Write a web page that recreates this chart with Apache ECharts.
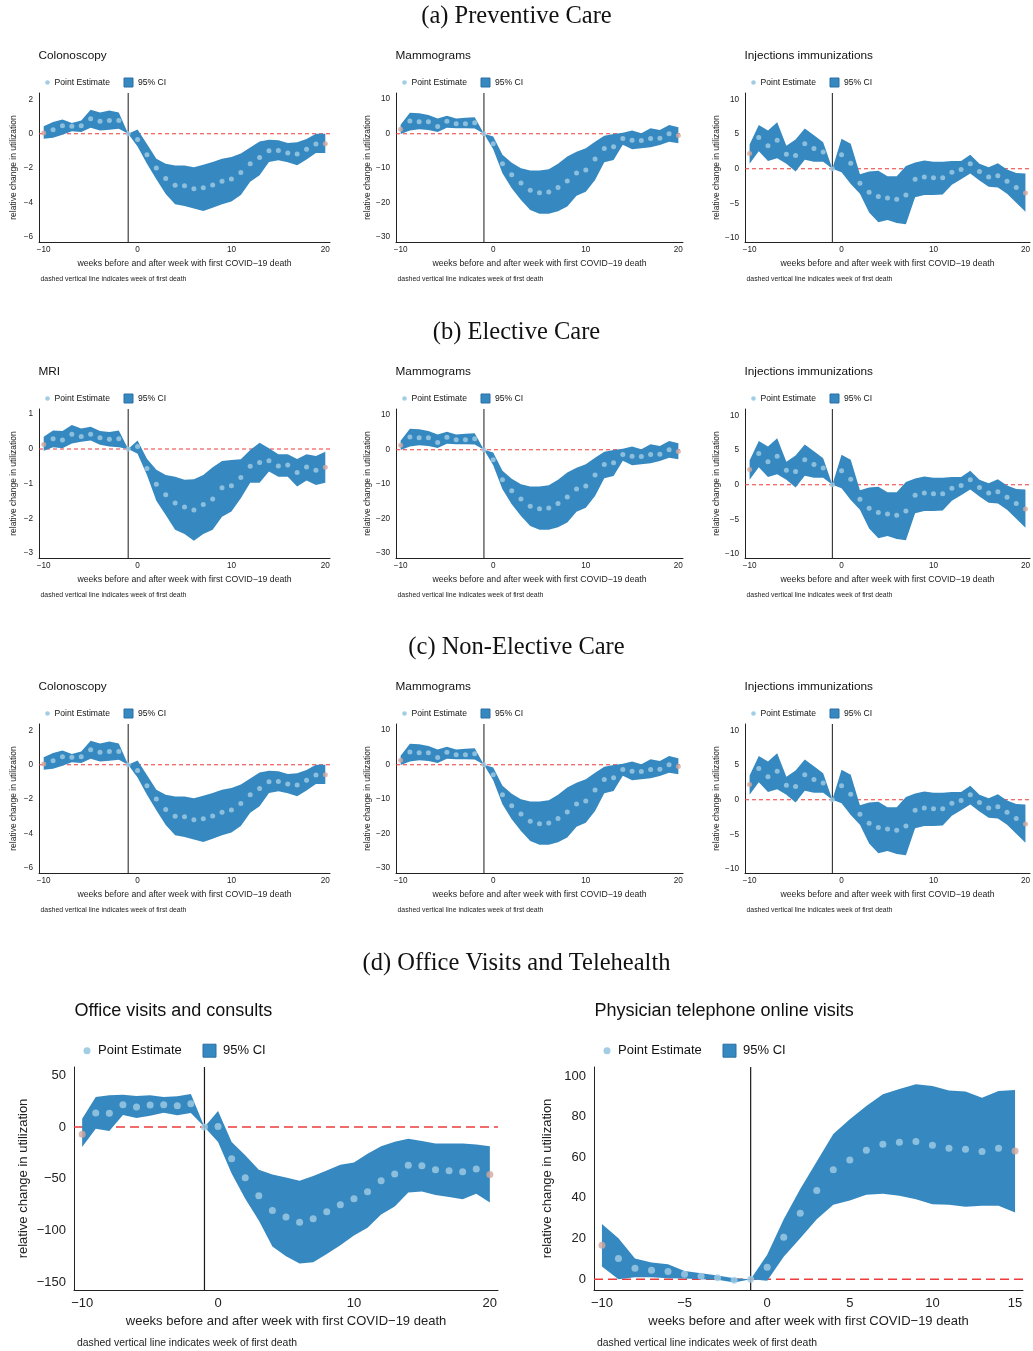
<!DOCTYPE html>
<html><head><meta charset="utf-8">
<script src="https://cdn.jsdelivr.net/npm/echarts@6/dist/echarts.min.js"></script>
<style>html,body{margin:0;padding:0;background:#fff}#c{width:1033px;height:1351px}</style>
</head><body><div id="c"></div>
<script>
// ---------------- DATA ----------------
const weeksLong = [-10,-9,-8,-7,-6,-5,-4,-3,-2,-1,0,1,2,3,4,5,6,7,8,9,10,11,12,13,14,15,16,17,18,19,20];
const weeksTele = [-10,-9,-8,-7,-6,-5,-4,-3,-2,-1,0,1,2,3,4,5,6,7,8,9,10,11,12,13,14,15];

const colonEst = [0.04,0.23,0.46,0.43,0.46,0.87,0.73,0.77,0.77,0,-0.33,-1.22,-2.0,-2.6,-3.0,-3.03,-3.2,-3.15,-2.98,-2.76,-2.63,-2.26,-1.74,-1.39,-0.99,-0.97,-1.12,-1.18,-0.91,-0.6,-0.58];
const colonHi  = [0.43,0.68,0.83,0.62,0.77,1.39,1.24,1.35,1.24,0,0.25,-0.6,-1.45,-1.75,-1.85,-1.85,-1.95,-1.8,-1.65,-1.45,-1.35,-1.15,-0.8,-0.45,-0.35,-0.38,-0.54,-0.5,-0.3,0,0];
const colonLo  = [-0.29,-0.23,-0.06,0.15,0.1,0.35,0.19,0.23,0.29,0,-0.75,-1.75,-2.65,-3.5,-4.1,-4.2,-4.35,-4.5,-4.3,-4.1,-3.95,-3.57,-2.8,-2.42,-1.65,-1.55,-1.66,-1.84,-1.5,-1.12,-1.12];

const mammoEst = [1.3,3.7,3.5,3.5,2.1,3.6,2.9,2.9,3.2,0,-2.9,-8.7,-11.9,-14.3,-16.4,-17.1,-16.9,-15.6,-13.7,-11.4,-10.5,-7.3,-4.3,-3.8,-1.4,-1.9,-2.0,-1.4,-1.3,0,-0.5];
const mammoHi  = [2.6,6.1,5.9,5.4,4.4,5.2,4.4,4.6,4.8,0,-0.8,-6.1,-8.4,-10.0,-10.7,-10.7,-10.3,-8.7,-6.6,-5.2,-4.2,-2.3,-0.6,-0.1,0.3,0.9,0.1,1.6,1.1,2.5,1.9];
const mammoLo  = [-0.1,0.9,1.3,1.1,0.5,1.7,1.6,1.6,1.5,0,-4.5,-11.5,-15.8,-19.2,-22.1,-23.2,-23.2,-22.5,-21.1,-18.0,-16.8,-13.4,-8.3,-7.6,-3.2,-4.5,-4.2,-3.9,-3.3,-2.3,-2.8];

const injEst = [2.2,4.5,3.3,4.1,2.1,1.9,3.6,2.9,2.4,0,2.0,0.8,-2.1,-3.4,-4.0,-4.2,-4.4,-3.8,-1.5,-1.2,-1.3,-1.3,-0.5,-0.1,0.7,-0.4,-1.2,-1.0,-1.8,-2.7,-3.5];
const injHi  = [3.5,6.3,5.5,6.7,3.3,4.2,5.8,4.8,3.8,0,4.3,3.6,-0.8,-0.4,-0.3,-1.1,-1.1,0.4,0.9,1.2,1.0,1.0,1.1,1.1,2.0,0.7,0.2,0.8,-0.1,-0.6,-0.7];
const injLo  = [0.7,2.5,1.1,1.5,0.7,-0.4,1.3,1.0,1.0,0,-0.5,-2.2,-3.6,-6.3,-7.7,-7.4,-7.8,-8.0,-4.1,-3.8,-3.8,-3.7,-2.3,-1.5,-0.7,-1.7,-2.6,-2.7,-3.6,-4.9,-6.2];

const mriEst = [0.13,0.29,0.26,0.42,0.36,0.42,0.32,0.28,0.29,0,0.07,-0.56,-1.02,-1.32,-1.56,-1.67,-1.76,-1.6,-1.44,-1.12,-1.06,-0.82,-0.5,-0.39,-0.34,-0.49,-0.46,-0.68,-0.52,-0.61,-0.53];
const mriHi  = [0.35,0.53,0.52,0.69,0.59,0.64,0.52,0.49,0.53,0,0.24,-0.28,-0.6,-0.75,-0.8,-0.89,-0.87,-0.75,-0.53,-0.35,-0.32,-0.3,-0.03,0.18,0.02,-0.15,-0.15,-0.29,-0.15,-0.2,-0.08];
const mriLo  = [-0.05,0.05,0.02,0.16,0.21,0.24,0.12,0.07,0.05,0,-0.14,-0.75,-1.49,-1.9,-2.33,-2.45,-2.64,-2.45,-2.33,-1.95,-1.8,-1.42,-0.97,-0.97,-0.65,-0.8,-0.8,-1.08,-0.91,-1.04,-0.97];

const officeEst = [-7,13.5,13.2,21.6,19.4,21.3,21.6,20.6,22.6,0,0.6,-30.6,-49,-66.5,-80.6,-87,-92,-88.7,-82,-75,-69.4,-62.6,-52,-45.5,-37,-37.4,-41.3,-42.3,-43.2,-40.6,-46];
const officeHi  = [8,29,30.6,31.3,30,30.6,29,29.7,32,0,15.5,-14.5,-27.4,-41.3,-45.8,-48.7,-52,-47.4,-42,-36.5,-34.2,-25.8,-18.7,-14.2,-11.3,-13.5,-16,-16,-16,-16.8,-18.7];
const officeLo  = [-19.4,-1.6,-3.9,11.6,8.7,11,13.9,11.3,13.5,0,-14.5,-45,-69.4,-90.3,-115.5,-125,-132,-130.6,-122.6,-114.2,-104.8,-97.4,-84.5,-76.8,-63.2,-62.3,-65.8,-67.7,-69.7,-64.5,-72.9];

const teleEst = [16.7,10.2,5.4,4.4,3.8,2.5,1.5,0.7,-0.5,0,5.9,20.7,32.5,43.6,53.8,58.7,63.4,66.4,67.4,67.7,65.9,64.4,63.9,62.8,64.4,63.1];
const teleHi  = [27.2,20.2,10.2,8.2,7.4,4.1,3.0,1.8,0.5,0,12,29.5,44.4,57.9,71.5,78.7,85.2,91,93.6,95.9,95.1,92.8,92.3,89.3,92.6,93.1];
const teleLo  = [6.2,0,1.0,1.0,0.5,0.3,0,-0.3,-1.6,0,-0.7,11.1,20.2,29.5,36.6,38.7,41.5,42,41.1,39.3,36.9,36.6,35.7,36.2,36.2,32.8];

const ticksLongX = [-10,0,10,20];
const ticksTeleX = [-10,-5,0,5,10,15];
const ticksColonY = [-6,-4,-2,0,2];
const ticksMammoY = [-30,-20,-10,0,10];
const ticksInjY = [-10,-5,0,5,10];
const ticksMriY = [-3,-2,-1,0,1];
const ticksOfficeY = [-150,-100,-50,0,50];
const ticksTeleY = [0,20,40,60,80,100];

const sectionTitles = ['(a) Preventive Care','(b) Elective Care','(c) Non-Elective Care','(d) Office Visits and Telehealth'];
const xTitle = 'weeks before and after week with first COVID\u221219 death';
const yTitle = 'relative change in utilization';
const noteText = 'dashed vertical line indicates week of first death';
const legendPoint = 'Point Estimate';
const legendCI = '95% CI';
const eventWeek = -1;
const baseline = 0;

// ---------------- STYLE / LAYOUT ----------------
const BAND = '#3689c0', BAND_EDGE = '#2a6ea3', PT = '#a3cde4', PT_END = '#d3a79d', RED = '#ee3b3b';
const FONT = "'Liberation Sans', Arial, Helvetica, sans-serif";
const SERIF = "'Liberation Serif', 'Times New Roman', serif";

const colon = {name:'Colonoscopy', weeks:weeksLong, est:colonEst, lo:colonLo, hi:colonHi, ymin:-6.3, ymax:2.37, yticks:ticksColonY, xticks:ticksLongX};
const mammo = {name:'Mammograms', weeks:weeksLong, est:mammoEst, lo:mammoLo, hi:mammoHi, ymin:-31.4, ymax:11.8, yticks:ticksMammoY, xticks:ticksLongX};
const inj = {name:'Injections immunizations', weeks:weeksLong, est:injEst, lo:injLo, hi:injHi, ymin:-10.55, ymax:10.9, yticks:ticksInjY, xticks:ticksLongX};
const mri = {name:'MRI', weeks:weeksLong, est:mriEst, lo:mriLo, hi:mriHi, ymin:-3.14, ymax:1.15, yticks:ticksMriY, xticks:ticksLongX};
const office = {name:'Office visits and consults', weeks:weeksLong, est:officeEst, lo:officeLo, hi:officeHi, ymin:-157.5, ymax:58, yticks:ticksOfficeY, xticks:ticksLongX};
const tele = {name:'Physician telephone online visits', weeks:weeksTele, est:teleEst, lo:teleLo, hi:teleHi, ymin:-5.3, ymax:104.4, yticks:ticksTeleY, xticks:ticksTeleX};

const SMALL = {title:11.8, legend:8.6, tick:8.2, xname:8.7, yname:8.5, note:6.9, pt:5, xmargin:4, ymargin:6, xgap:17.5, ygap:20.5,
  titleDy:-37, legDy:-10.5, noteDy:37, dot:[8.5,2.3], t1:15.5, rect:[85,9], t2:99, noteDx:1.5, titleDx:-0.5, dash:[4,3], vline:1, hline:1.1};
const BIG = {title:18, legend:13, tick:13, xname:13, yname:13, note:10.4, pt:7, xmargin:7, ymargin:8, xgap:25, ygap:44,
  titleDy:-56, legDy:-16.3, noteDy:53, dot:[13,3.5], t1:24, rect:[129,13], t2:149, noteDx:3, titleDx:0.5, dash:[9,5], vline:1.2, hline:1.3};

const fmt = v => String(v).replace('-', '\u2212');

const grid = [], xAxis = [], yAxis = [], series = [], graphic = [];

function txt(x, y, text, size, opts) {
  graphic.push({type:'text', x:x, y:y, silent:true,
    style:{text:text, fontSize:size, fontFamily:(opts&&opts.family)||FONT, fill:(opts&&opts.fill)||'#111',
      align:(opts&&opts.align)||'left', verticalAlign:'middle'}});
}

function addPanel(d, left, top, width, height, xmin, xmax, S, ygapOverride) {
  const i = grid.length;
  grid.push({left:left, top:top, width:width, height:height});
  xAxis.push({type:'value', gridIndex:i, min:xmin, max:xmax,
    axisLine:{onZero:false, lineStyle:{color:'#222', width:1}}, axisTick:{show:false}, splitLine:{show:false},
    axisLabel:{customValues:d.xticks, formatter:fmt, fontSize:S.tick, color:'#222', margin:S.xmargin, fontFamily:FONT},
    name:xTitle, nameLocation:'middle', nameGap:S.xgap, nameTextStyle:{fontSize:S.xname, color:'#222', fontFamily:FONT}});
  yAxis.push({type:'value', gridIndex:i, min:d.ymin, max:d.ymax,
    axisLine:{show:true, onZero:false, lineStyle:{color:'#222', width:1}}, axisTick:{show:false}, splitLine:{show:false},
    axisLabel:{customValues:d.yticks, formatter:fmt, fontSize:S.tick, color:'#222', margin:S.ymargin, fontFamily:FONT},
    name:yTitle, nameLocation:'middle', nameGap:(ygapOverride||S.ygap), nameTextStyle:{fontSize:S.yname, color:'#222', fontFamily:FONT}});
  // dashed zero reference line (under the band)
  series.push({type:'line', xAxisIndex:i, yAxisIndex:i, silent:true, z:1, symbol:'none', animation:false,
    data:[[xmin, baseline],[xmax, baseline]],
    lineStyle:{color:RED, type:S.dash, width:S.hline}, itemStyle:{color:RED}});
  // 95% CI band: one polygon through the library's coordinate conversion
  series.push({type:'custom', xAxisIndex:i, yAxisIndex:i, silent:true, z:2,
    data:d.weeks.map((w,k)=>[w, d.lo[k], d.hi[k]]),
    encode:{x:0, y:[1,2]},
    renderItem:(params, api) => {
      if (params.dataIndex !== 0) return null;
      const upper = d.weeks.map((w,k)=>api.coord([w, d.hi[k]]));
      const lower = d.weeks.map((w,k)=>api.coord([w, d.lo[k]])).reverse();
      return {type:'polygon', shape:{points:upper.concat(lower)}, style:{fill:BAND}};
    }});
  // vertical line at week of first death
  series.push({type:'line', xAxisIndex:i, yAxisIndex:i, silent:true, z:2.5, symbol:'none', animation:false,
    data:[[eventWeek, d.ymin],[eventWeek, d.ymax]],
    lineStyle:{color:'#1a1a1a', type:'solid', width:S.vline}, itemStyle:{color:'#1a1a1a'}});
  const last = d.weeks.length - 1;
  series.push({type:'scatter', xAxisIndex:i, yAxisIndex:i, silent:true, symbolSize:S.pt, z:3,
    itemStyle:{color:PT},
    data:d.weeks.map((w,k)=>({value:[w, d.est[k]], itemStyle:(k===0||k===last)?{color:PT_END}:undefined}))});
  // panel title, legend, note
  txt(left + S.titleDx, top + S.titleDy, d.name, S.title);
  const ly = top + S.legDy;
  graphic.push({type:'circle', silent:true, shape:{cx:left+S.dot[0], cy:ly, r:S.dot[1]}, style:{fill:PT}});
  txt(left + S.t1, ly, legendPoint, S.legend);
  graphic.push({type:'rect', silent:true, shape:{x:left+S.rect[0], y:ly-S.rect[1]/2, width:S.rect[1], height:S.rect[1]}, style:{fill:BAND, stroke:BAND_EDGE, lineWidth:1}});
  txt(left + S.t2, ly, legendCI, S.legend);
  txt(left + S.noteDx, top + height + S.noteDy, noteText, S.note, {fill:'#222'});
}

const smallTops = [93, 409, 724];
const smallLefts = [39, 396, 745];
const smallWidths = [291, 287, 288];
const rows = [[colon, mammo, inj], [mri, mammo, inj], [colon, mammo, inj]];
rows.forEach((r, ri) => r.forEach((d, ci) => addPanel(d, smallLefts[ci], smallTops[ri], smallWidths[ci], 149, -10.5, 20.5, SMALL)));
addPanel(office, 74, 1067, 424, 223, -10.6, 20.6, BIG, 44);
addPanel(tele, 594, 1067, 429, 223, -10.48, 15.48, BIG, 40);

const sectionY = [17, 333, 648, 964];
sectionTitles.forEach((t, k) => txt(516.5, sectionY[k], t, 24.5, {family:SERIF, align:'center', fill:'#111'}));

const chart = echarts.init(document.getElementById('c'), null, {renderer:'canvas'});
chart.setOption({animation:false, backgroundColor:'#fff', grid:grid, xAxis:xAxis, yAxis:yAxis, series:series, graphic:graphic});
</script>
</body></html>
